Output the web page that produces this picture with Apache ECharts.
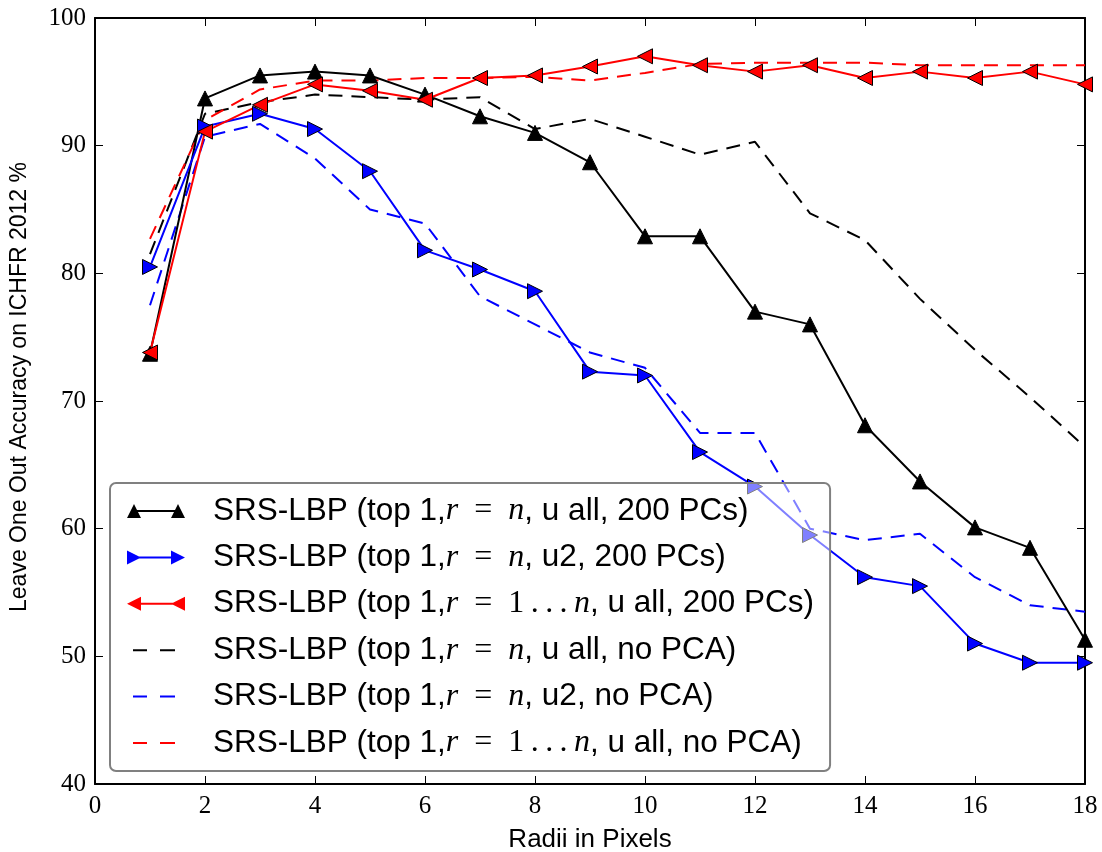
<!DOCTYPE html>
<html>
<head>
<meta charset="utf-8">
<script src="https://cdn.jsdelivr.net/npm/echarts@6/dist/echarts.min.js"></script>
<style>
  html, body { margin: 0; padding: 0; background: #fff; overflow: hidden; }
  #chart { width: 1102px; height: 852px; }
</style>
</head>
<body>
<div id="chart"></div>
<script>
// Radius (pixels) of the sampling ring
const radii = [1, 2, 3, 4, 5, 6, 7, 8, 9, 10, 11, 12, 13, 14, 15, 16, 17, 18];

// Leave-one-out accuracy (%) per configuration
const rnUAll200 = [73.7, 93.7, 95.5, 95.8, 95.5, 94.0, 92.3, 91.0, 88.7, 82.9, 82.9, 77.0, 76.0, 68.1, 63.7, 60.1, 58.5, 51.3];
const rnU2200 = [80.5, 91.5, 92.5, 91.3, 88.0, 81.8, 80.3, 78.6, 72.3, 72.0, 66.0, 63.3, 59.5, 56.2, 55.5, 51.0, 49.5, 49.5];
const r1nUAll200 = [73.8, 91.1, 93.2, 94.8, 94.3, 93.6, 95.3, 95.5, 96.2, 97.0, 96.3, 95.8, 96.3, 95.3, 95.8, 95.3, 95.8, 94.8];
const rnUAllNoPca = [81.5, 92.5, 93.4, 94.0, 93.8, 93.6, 93.8, 91.3, 92.1, 90.7, 89.3, 90.3, 84.7, 82.6, 78.0, 74.0, 70.3, 66.4];
const rnU2NoPca = [77.5, 90.7, 91.7, 89.0, 85.0, 83.9, 78.2, 76.0, 73.8, 72.6, 67.5, 67.5, 60.0, 59.1, 59.6, 56.2, 54.0, 53.5];
const r1nUAllNoPca = [82.7, 92.0, 94.4, 95.1, 95.1, 95.3, 95.3, 95.4, 95.1, 95.7, 96.4, 96.5, 96.5, 96.5, 96.3, 96.3, 96.3, 96.3];

const seriesNames = [
  'SRS-LBP (top 1,r = n, u all, 200 PCs)',
  'SRS-LBP (top 1,r = n, u2, 200 PCs)',
  'SRS-LBP (top 1,r = 1...n, u all, 200 PCs)',
  'SRS-LBP (top 1,r = n, u all, no PCA)',
  'SRS-LBP (top 1,r = n, u2, no PCA)',
  'SRS-LBP (top 1,r = 1...n, u all, no PCA)'
];

const xTicks = { min: 0, max: 18, interval: 2 };
const yTicks = { min: 40, max: 100, interval: 10 };

const pair = vals => radii.map((r, i) => [r, vals[i]]);

// Legend handles: a short line with a marker at each end, or two dashes
const iconUp = 'path://M0,14L7,0L14,14Z M7,6H51V8H7Z M44,14L51,0L58,14Z';
const iconRight = 'path://M0,0L14,7L0,14Z M7,6H51V8H7Z M44,0L58,7L44,14Z';
const iconLeft = 'path://M14,0L14,14L0,7Z M7,6H51V8H7Z M58,0L58,14L44,7Z';
const iconDash = 'path://M0,0L0.01,0L0,0.01Z M6,6H20V8H6Z M33,6H48V8H33Z M58,14L57.99,14L58,13.99Z';

const solid = (name, vals, color, rotate) => ({
  name, type: 'line', data: pair(vals), color,
  symbol: 'triangle', symbolSize: 15, symbolRotate: rotate,
  lineStyle: { width: 2, color },
  itemStyle: { color, borderColor: '#000', borderWidth: 1 },
  emphasis: { disabled: true }, animation: false, z: 3
});
const dashed = (name, vals, color) => ({
  name, type: 'line', data: pair(vals), color,
  symbol: 'none', showSymbol: false,
  lineStyle: { width: 2, color, type: [14, 9] },
  itemStyle: { color },
  emphasis: { disabled: true }, animation: false, z: 2
});

// Legend labels: sans text with the r / n symbols set in italic serif
const EN = '\u2002', THIN = '\u2009';
function legendLabel(name) {
  const m = name.match(/^(.*,)r = (1\.\.\.)?n(,.*)$/);
  if (!m) return '{s|' + name + '}';
  const range = m[2] ? '{mr|1' + THIN + '.' + THIN + '.' + THIN + '.' + THIN + '}' : '';
  return '{s|' + m[1] + '}{mi|r}{mr|' + EN + '=' + EN + '}' + range + '{mi|n}{s|' + m[3] + '}';
}

const sideAxis = {
  axisLine: { show: true, onZero: false, lineStyle: { color: '#000', width: 2 } },
  axisTick: { show: true, inside: true, length: 8, lineStyle: { color: '#000', width: 1 } },
  splitLine: { show: false }
};

const chart = echarts.init(document.getElementById('chart'), null, { renderer: 'canvas' });
chart.setOption({
  backgroundColor: '#fff',
  animation: false,
  grid: { left: 95, right: 17, top: 18, bottom: 68, containLabel: false, outerBoundsMode: 'none' },
  xAxis: [
    Object.assign({
      type: 'value', position: 'bottom', min: xTicks.min, max: xTicks.max, interval: xTicks.interval,
      name: 'Radii in Pixels', nameLocation: 'middle', nameGap: 43,
      nameTextStyle: { fontFamily: 'Liberation Sans', fontSize: 26, color: '#000' },
      axisLabel: { fontFamily: 'Liberation Serif', fontSize: 25, color: '#000', margin: 10 }
    }, sideAxis),
    Object.assign({
      type: 'value', position: 'top', min: xTicks.min, max: xTicks.max, interval: xTicks.interval,
      axisLabel: { show: false }
    }, sideAxis)
  ],
  yAxis: [
    Object.assign({
      type: 'value', position: 'left', min: yTicks.min, max: yTicks.max, interval: yTicks.interval,
      name: 'Leave One Out Accuracy on ICHFR 2012 %', nameLocation: 'middle', nameGap: 64, nameRotate: 90,
      nameTextStyle: { fontFamily: 'Liberation Sans', fontSize: 23, color: '#000', padding: [0, 0, 0, 28] },
      axisLabel: { fontFamily: 'Liberation Serif', fontSize: 25, color: '#000', margin: 9 }
    }, sideAxis),
    Object.assign({
      type: 'value', position: 'right', min: yTicks.min, max: yTicks.max, interval: yTicks.interval,
      axisLabel: { show: false }
    }, sideAxis)
  ],
  legend: {
    orient: 'vertical', left: 110, top: 483,
    padding: [12, 16, 12, 17], itemGap: 14.4, itemWidth: 58, itemHeight: 14,
    backgroundColor: 'rgba(255,255,255,0.5)', borderColor: '#808080', borderWidth: 2, borderRadius: 6,
    selectedMode: false,
    formatter: legendLabel,
    textStyle: {
      padding: [0, 0, 0, 23],
      rich: {
        s: { fontFamily: 'Liberation Sans', fontSize: 31.5, color: '#000', lineHeight: 30 },
        mi: { fontFamily: 'Liberation Serif', fontStyle: 'italic', fontSize: 32, color: '#000', lineHeight: 30 },
        mr: { fontFamily: 'Liberation Serif', fontSize: 32, color: '#000', lineHeight: 30 }
      }
    },
    data: [
      { name: seriesNames[0], icon: iconUp, itemStyle: { borderWidth: 0 } },
      { name: seriesNames[1], icon: iconRight, itemStyle: { borderWidth: 0 } },
      { name: seriesNames[2], icon: iconLeft, itemStyle: { borderWidth: 0 } },
      { name: seriesNames[3], icon: iconDash, itemStyle: { borderWidth: 0 } },
      { name: seriesNames[4], icon: iconDash, itemStyle: { borderWidth: 0 } },
      { name: seriesNames[5], icon: iconDash, itemStyle: { borderWidth: 0 } }
    ]
  },
  series: [
    solid(seriesNames[0], rnUAll200, '#000000', 0),
    solid(seriesNames[1], rnU2200, '#0000ff', -90),
    solid(seriesNames[2], r1nUAll200, '#ff0000', 90),
    dashed(seriesNames[3], rnUAllNoPca, '#000000'),
    dashed(seriesNames[4], rnU2NoPca, '#0000ff'),
    dashed(seriesNames[5], r1nUAllNoPca, '#ff0000')
  ]
});
</script>
</body>
</html>
